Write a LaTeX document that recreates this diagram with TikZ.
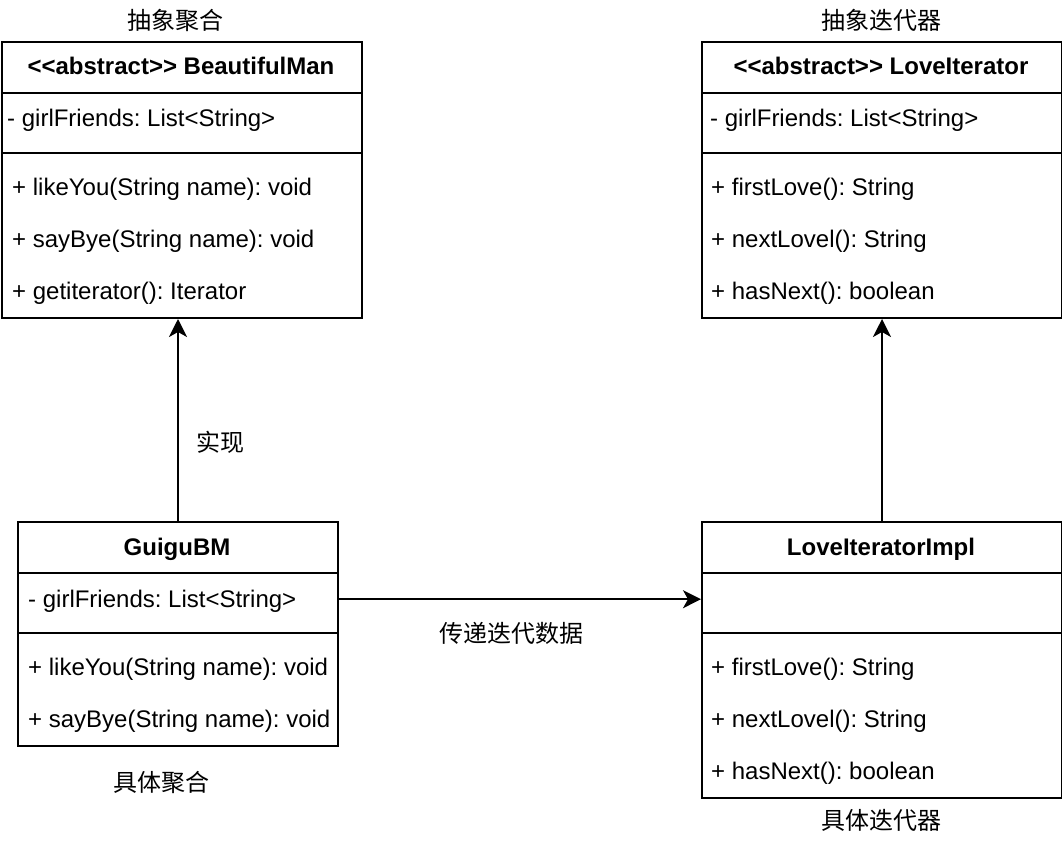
\documentclass[tikz,border=0pt]{standalone}
\usepackage{fontspec}
\setmainfont{Liberation Sans}[Ligatures=ResetAll]
\newfontfamily\cjk{Noto Sans CJK SC}
\usetikzlibrary{arrows.meta}
\frenchspacing
\tikzset{
  umlbox/.style={draw, line width=2pt, rectangle, inner sep=0pt, anchor=north west, fill=white},
  rowbox/.style={rectangle, inner sep=0pt, anchor=north west},
  divider/.style={line width=2pt},
  titletext/.style={font=\fontsize{24}{28}\selectfont\bfseries, anchor=base, inner sep=0pt},
  itemtext/.style={font=\fontsize{24}{28}\selectfont, anchor=base west, inner sep=0pt},
  cjklabel/.style={font=\cjk\fontsize{24}{28}\selectfont, inner sep=0pt},
  arr/.style={line width=2pt, -{Stealth[length=18pt, width=18pt, inset=5pt]}}
}
\begin{document}
\begin{tikzpicture}[x=1pt,y=-1pt]
\useasboundingbox (0,0) rectangle (1062,840);

% ---------- BeautifulMan ----------
\node[umlbox, minimum width=360pt, minimum height=276pt] (bm) at (1,41) {};
\draw[divider] (1,93) -- (361,93);
\draw[divider] (1,153) -- (361,153);
\node[titletext] (bmt) at (181,75) {{<}{<}abstract{>}{>} BeautifulMan};
\node[itemtext] (bma) at (7,127) {- girlFriends: List<String>};
\node[itemtext] (bmm1) at (12,195) {+ likeYou(String name): void};
\node[itemtext] (bmm2) at (12,247) {+ sayBye(String name): void};
\node[itemtext] (bmm3) at (12,299) {+ getiterator(): Iterator};
\node[cjklabel] (bml) at (175,20) {抽象聚合};

% ---------- LoveIterator ----------
\node[umlbox, minimum width=360pt, minimum height=276pt] (li) at (701,41) {};
\draw[divider] (701,93) -- (1061,93);
\draw[divider] (701,153) -- (1061,153);
\node[titletext] (lit) at (881,75) {{<}{<}abstract{>}{>} LoveIterator};
\node[itemtext] (lia) at (710,127) {- girlFriends: List<String>};
\node[itemtext] (lim1) at (711,195) {+ firstLove(): String};
\node[itemtext] (lim2) at (711,247) {+ nextLovel(): String};
\node[itemtext] (lim3) at (711,299) {+ hasNext(): boolean};
\node[cjklabel] (lil) at (881,20) {抽象迭代器};

% ---------- GuiguBM ----------
\node[umlbox, minimum width=320pt, minimum height=224pt] (gb) at (17,521) {};
\node[rowbox, minimum width=320pt, minimum height=52pt] (gbrow) at (17,573) {};
\draw[divider] (17,573) -- (337,573);
\draw[divider] (17,633) -- (337,633);
\node[titletext] (gbt) at (177,555) {GuiguBM};
\node[itemtext] (gba) at (28,607) {- girlFriends: List<String>};
\node[itemtext] (gbm1) at (28,675) {+ likeYou(String name): void};
\node[itemtext] (gbm2) at (28,727) {+ sayBye(String name): void};
\node[cjklabel] (gbl) at (161,782) {具体聚合};

% ---------- LoveIteratorImpl ----------
\node[umlbox, minimum width=360pt, minimum height=276pt] (im) at (701,521) {};
\node[rowbox, minimum width=360pt, minimum height=52pt] (imrow) at (701,573) {};
\draw[divider] (701,573) -- (1061,573);
\draw[divider] (701,633) -- (1061,633);
\node[titletext] (imt) at (881,555) {LoveIteratorImpl};
\node[itemtext] (imm1) at (711,675) {+ firstLove(): String};
\node[itemtext] (imm2) at (711,727) {+ nextLovel(): String};
\node[itemtext] (imm3) at (711,779) {+ hasNext(): boolean};
\node[cjklabel] (iml) at (881,820) {具体迭代器};

% ---------- connectors ----------
\draw[arr] (gb.north) -- (gb.north |- bm.south);
\node[cjklabel] (lbl1) at (220,442) {实现};
\draw[arr] (im.north) -- (im.north |- li.south);
\draw[arr] (gbrow.east) -- (imrow.west);
\node[cjklabel] (lbl2) at (511,633) {传递迭代数据};
\end{tikzpicture}
\end{document}
